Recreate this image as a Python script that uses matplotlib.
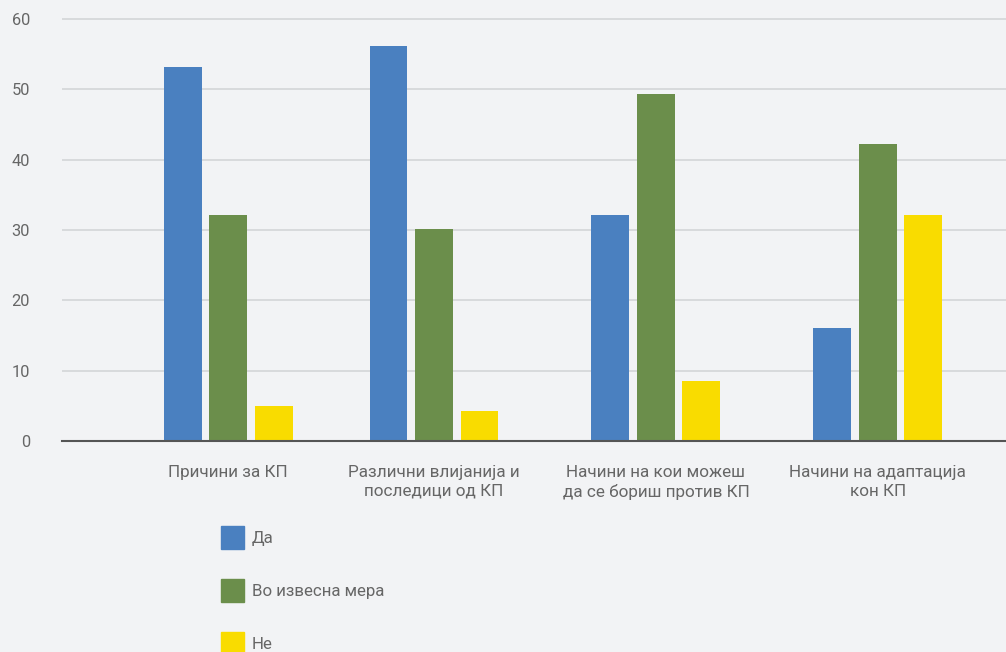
import numpy as np
import matplotlib.pyplot as plt
from matplotlib.patches import Patch

plt.rcParams['font.family'] = ['Roboto', 'DejaVu Sans']

categories = ["Причини за КП",
              "Различни влијанија и\nпоследици од КП",
              "Начини на кои можеш\nда се бориш против КП",
              "Начини на адаптација\nкон КП"]
series = ["Да", "Во извесна мера", "Не"]
da = [53.2, 56.1, 32.1, 16.1]
izvesna = [32.1, 30.1, 49.3, 42.2]
ne = [5.0, 4.3, 8.6, 32.1]

colors = ["#4a80c0", "#6b8e4b", "#f9dc00"]
bg = "#f2f3f5"
txt = "#666666"

fig = plt.figure(figsize=(10.06, 6.52), dpi=100, facecolor=bg)
ax = fig.add_axes([62 / 1006, 1 - 441 / 652, 1 - 62 / 1006, (441 - 12) / 652])
ax.set_facecolor(bg)

# group centres (the first group sits a little closer to the second)
pos = np.array([0, 0.928, 1.928, 2.928])
w = 0.171
step = 0.205
for i, vals in enumerate([da, izvesna, ne]):
    ax.bar(pos + (i - 1) * step, vals, width=w, color=colors[i], zorder=3)

ax.set_xlim(-0.748, 3.505)
ax.set_ylim(0, 61)
ax.set_yticks(range(0, 61, 10))
ax.set_xticks(pos)
ax.set_xticklabels(categories, linespacing=1.3)
ax.grid(axis='y', color="#d3d5d8", linewidth=1.2, zorder=0)
for s in ['left', 'right', 'top']:
    ax.spines[s].set_visible(False)
ax.spines['bottom'].set_color("#555555")
ax.spines['bottom'].set_linewidth(1.5)
ax.spines['bottom'].set_zorder(4)
ax.tick_params(axis='y', length=0, pad=23, labelsize=11.8, labelcolor=txt)
ax.tick_params(axis='x', length=0, pad=17.5, labelsize=12.3, labelcolor=txt)

handles = [Patch(color=c) for c in colors]
leg = fig.legend(handles, series, loc='upper left',
                 bbox_to_anchor=(206 / 1006, 1 - 511 / 652),
                 frameon=False, fontsize=12.2, handlelength=1.35,
                 handleheight=1.7, labelspacing=1.76, handletextpad=0.45,
                 labelcolor=txt)

fig.savefig("out.png", dpi=100, facecolor=bg)
